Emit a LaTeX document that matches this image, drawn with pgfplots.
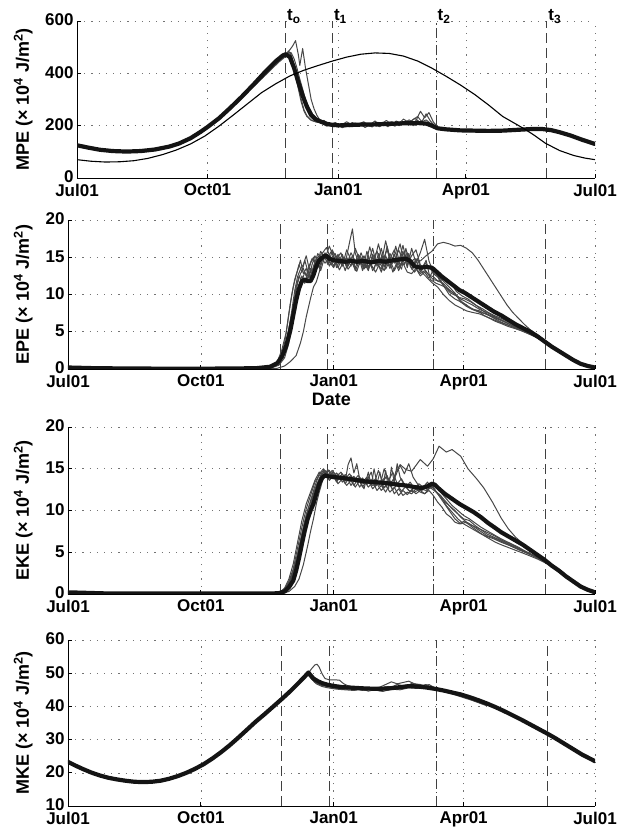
\documentclass[border=0pt]{standalone}
\usepackage{fontspec}
\setmainfont{Liberation Sans}
\usepackage{pgfplots}
\pgfplotsset{compat=1.18}
\definecolor{membcol}{gray}{0.28}
\definecolor{thkcol}{gray}{0.08}
\pgfplotsset{
  base/.style={scale only axis, xmin=0, xmax=365, no markers,
    axis x line*=bottom, axis y line*=left,
    xtick={0,92,184,274,365}, xticklabels={Jul01,Oct01,Jan01,Apr01,Jul01},
    grid=major, major grid style={black!55, line width=0.6pt, dash pattern=on 1.2pt off 6pt},
    tick align=inside, major tick length=4pt, tick style={black, line width=0.8pt},
    axis line style={black, line width=0.9pt},
    /pgf/number format/assume math mode=true,
    ticklabel style={font=\fontsize{17}{17}\selectfont\bfseries},
    xticklabel style={yshift=-2.5pt},
    yticklabel style={yshift=1pt},
    label style={font=\fontsize{18}{18}\selectfont\bfseries},
  },
  gm/.style={membcol, line width=1pt, line join=round},
  thk/.style={thkcol, line width=4.2pt, line join=round, line cap=round},
  tln/.style={black!75, line width=1pt, dash pattern=on 10pt off 5pt},
  tdd/.style={black!75, line width=1pt, dash pattern=on 10pt off 3pt on 1.5pt off 3pt},
}
\begin{document}
\begin{tikzpicture}[x=1pt,y=1pt]
\useasboundingbox (0,0) rectangle (627,830);
% ---------------- Panel 1: MPE
\begin{axis}[base, at={(77pt,652pt)}, anchor=south west, width=518pt, height=157pt,
  clip mode=individual,
  ymin=0, ymax=600, ytick={0,200,400,600},
  ylabel={MPE (× 10\textsuperscript{4} J/m\textsuperscript{2})},
  ylabel style={at={(axis description cs:-0.104,0.5)}, anchor=center}]
\addplot[tln] coordinates {(147,0) (147,600)};
\addplot[tln] coordinates {(180,0) (180,600)};
\addplot[tdd] coordinates {(253,0) (253,600)};
\addplot[tln] coordinates {(331,0) (331,600)};
\addplot[gm] coordinates {(125,355) (135,410) (142,445) (146,465) (150,490) (152,505) (154,525) (156,470) (157,430) (159,495) (161,420) (163,360) (165,300) (167,265) (169,240) (171,222) (174,212) (178,205) (182,200) (186,208) (190,198) (194,212) (198,203) (202,215) (206,198) (210,210) (214,205) (218,220) (222,203) (226,212) (230,208) (234,222) (238,210) (242,255) (245,230) (248,250) (251,215) (254,195) (258,188) (265,184) (275,180) (290,178) (305,180) (320,186) (330,187) (340,176)};
\addplot[gm] coordinates {(125,360) (135,415) (142,450) (147,470) (150,480) (152,450) (154,400) (156,350) (158,300) (160,260) (162,238) (165,222) (168,215) (172,210) (176,198) (180,205) (184,195) (188,203) (192,196) (196,210) (200,200) (204,206) (208,195) (212,213) (216,200) (220,208) (224,198) (228,215) (232,205) (236,220) (240,235) (243,215) (246,245) (249,218) (252,200) (256,185) (262,182) (272,178) (285,177) (300,179) (315,183) (325,186) (335,183) (345,165)};
\addplot[gm] coordinates {(125,352) (135,405) (142,442) (146,460) (149,485) (151,470) (153,430) (155,395) (157,360) (159,320) (161,290) (163,262) (165,240) (168,222) (171,213) (175,205) (179,198) (183,206) (187,192) (191,204) (195,197) (199,208) (203,193) (207,206) (211,198) (215,212) (219,196) (223,210) (227,200) (231,214) (235,203) (239,218) (243,206) (247,212) (251,196) (255,186) (260,183) (270,180) (280,178) (295,179) (310,182) (322,186) (332,186) (342,172)};
\addplot[gm] coordinates {(130,378) (140,440) (145,462) (148,475) (150,468) (152,440) (154,390) (156,340) (158,290) (160,255) (162,235) (165,220) (170,212) (174,220) (178,204) (182,212) (186,200) (190,215) (194,202) (198,197) (202,210) (206,202) (210,218) (214,200) (218,210) (222,215) (226,204) (230,225) (234,212) (238,228) (242,212) (246,222) (250,205) (254,192) (260,187) (270,184) (285,182) (300,183) (315,186) (328,190) (340,178)};
\addplot[gm] coordinates {(130,385) (140,445) (146,468) (149,482) (151,478) (153,455) (155,420) (157,378) (159,340) (161,300) (163,275) (166,245) (169,228) (173,212) (177,208) (181,196) (185,203) (189,210) (193,198) (197,205) (201,212) (205,200) (209,207) (213,196) (217,206) (221,200) (225,218) (229,205) (233,213) (237,200) (241,214) (245,205) (249,208) (253,190) (258,185) (268,182) (282,180) (298,180) (312,184) (326,188) (336,185) (345,168)};
\addplot[thk] coordinates {(0,125) (8,116) (16,108) (25,103) (35,101) (45,103) (55,109) (65,120) (72,132) (80,152) (87,176) (92,195) (100,228) (108,268) (116,310) (124,355) (132,402) (140,446) (145,468) (147,473) (150,462) (153,420) (156,365) (159,315) (162,272) (165,240) (168,225) (172,215) (176,207) (180,203) (185,201) (190,202) (200,204) (210,205) (220,207) (230,209) (240,210) (246,208) (250,200) (254,190) (260,186) (270,182) (280,181) (290,180) (300,181) (310,184) (320,187) (328,187) (334,183) (340,175) (348,162) (356,146) (365,130)};
\addplot[black, line width=1.1pt] coordinates {(0,70) (10,64) (20,61) (30,62) (40,66) (50,75) (60,89) (70,107) (80,130) (90,160) (100,198) (110,240) (120,283) (130,326) (140,360) (150,390) (160,412) (170,430) (180,447) (190,462) (200,473) (210,478) (220,476) (230,466) (240,447) (250,420) (260,389) (270,356) (280,320) (290,279) (300,235) (310,204) (316,185) (322,164) (330,133) (340,105) (350,86) (358,76) (365,70)};
\node[anchor=base west, inner sep=0pt, font=\fontsize{17}{17}\selectfont\bfseries] at (axis cs:148,602) {t\textsubscript{o}};
\node[anchor=base west, inner sep=0pt, font=\fontsize{17}{17}\selectfont\bfseries] at (axis cs:181,602) {t\textsubscript{1}};
\node[anchor=base west, inner sep=0pt, font=\fontsize{17}{17}\selectfont\bfseries] at (axis cs:254,602) {t\textsubscript{2}};
\node[anchor=base west, inner sep=0pt, font=\fontsize{17}{17}\selectfont\bfseries] at (axis cs:332,602) {t\textsubscript{3}};
\end{axis}
% ---------------- Panel 2: EPE
\begin{axis}[base, at={(68pt,461pt)}, anchor=south west, width=527pt, height=149pt,
  ymin=0, ymax=20, ytick={0,5,10,15,20}, xlabel={Date},
  xlabel style={yshift=4pt},
  ylabel={EPE (× 10\textsuperscript{4} J/m\textsuperscript{2})},
  ylabel style={at={(axis description cs:-0.085,0.5)}, anchor=center}]
\addplot[tln] coordinates {(147,0) (147,20)};
\addplot[tln] coordinates {(180,0) (180,20)};
\addplot[tdd] coordinates {(253,0) (253,20)};
\addplot[tln] coordinates {(331,0) (331,20)};
\addplot[gm] coordinates {(135,0) (145,0.1) (150,0.4) (154,1.0) (158,1.8) (161,3.5) (163,5.0) (165,7.0) (168,9.5) (170,11.0) (172,11.7) (174,13.0) (176,14.5) (178,15.5) (180,15.0) (183,16.0) (186,14.8) (189,15.6) (192,14.2) (195,17.0) (197,18.8) (199,15.5) (202,14.0) (205,15.2) (208,13.6) (211,15.0) (214,14.0) (217,16.2) (220,13.8) (223,15.5) (226,14.2) (229,16.0) (232,14.5) (235,15.3) (238,14.2) (241,13.5) (244,12.8) (247,13.2) (250,12.6) (253,12.4) (256,11.8) (260,11.5) (264,10.6) (268,10.0) (272,9.4) (276,9.0) (280,8.6) (285,8.0) (290,7.6) (295,7.1) (300,6.6) (306,6.0) (312,5.4) (318,4.9) (325,4.2) (332,3.4) (340,2.4)};
\addplot[gm] coordinates {(140,0.2) (146,0.8) (150,2.0) (153,4.5) (155,7.0) (157,9.5) (159,11.5) (161,12.8) (163,13.5) (165,12.5) (167,13.8) (169,14.8) (171,14.2) (173,15.0) (176,15.5) (179,16.3) (182,14.8) (185,15.5) (188,14.2) (191,15.0) (194,13.8) (197,15.2) (200,14.0) (203,15.6) (206,13.9) (209,16.4) (212,14.3) (215,16.8) (218,14.5) (221,16.0) (224,14.0) (227,16.5) (230,13.9) (233,15.2) (236,14.1) (240,14.8) (244,14.5) (248,15.2) (252,15.8) (256,16.8) (260,17.0) (264,16.8) (268,16.5) (272,16.6) (276,16.2) (280,15.6) (284,14.6) (288,13.4) (292,12.2) (296,11.0) (300,9.8) (304,8.6) (308,7.6) (312,6.8) (316,6.0) (320,5.3) (325,4.6) (332,3.6) (340,2.5)};
\addplot[gm] coordinates {(140,0.3) (145,1.0) (148,2.5) (151,4.8) (153,7.5) (155,10.0) (157,12.0) (159,13.2) (161,14.6) (163,12.8) (165,13.5) (167,12.2) (169,14.0) (171,15.2) (173,14.4) (175,15.8) (178,14.8) (181,16.5) (184,15.0) (187,14.2) (190,15.4) (193,13.6) (196,14.8) (199,13.2) (202,14.6) (205,13.4) (208,15.0) (211,13.2) (214,14.4) (217,13.0) (220,14.8) (223,13.5) (226,15.4) (229,13.6) (232,14.2) (235,13.0) (238,12.8) (241,13.5) (244,12.5) (247,13.0) (250,12.2) (254,13.6) (257,12.0) (260,11.2) (264,10.0) (268,9.4) (272,9.0) (276,8.4) (280,8.0) (284,7.8) (288,7.2) (292,6.8) (296,6.4) (300,6.1) (305,5.7) (310,5.4) (316,5.0) (322,4.5) (330,3.6) (340,2.4)};
\addplot[gm] coordinates {(140,0.2) (146,0.9) (150,2.8) (153,5.5) (156,8.5) (158,11.0) (160,12.5) (162,11.8) (164,13.0) (166,12.0) (168,13.5) (170,12.8) (172,14.5) (175,14.0) (178,15.6) (181,13.8) (184,15.2) (187,13.6) (190,14.8) (193,14.0) (196,15.6) (199,14.4) (202,15.0) (205,13.5) (208,14.2) (211,16.2) (214,13.8) (217,15.0) (220,13.4) (223,14.6) (226,13.2) (229,14.4) (232,15.8) (235,13.6) (238,16.2) (241,14.2) (244,15.6) (247,17.4) (250,14.5) (253,13.0) (256,12.5) (260,11.8) (264,11.0) (268,10.2) (272,9.0) (276,8.6) (280,8.0) (285,7.6) (290,7.4) (295,6.8) (300,6.3) (306,5.8) (312,5.3) (318,4.8) (325,4.2) (332,3.4) (340,2.4)};
\addplot[gm] coordinates {(140,0.2) (145,0.6) (149,1.8) (152,4.2) (155,7.8) (157,10.5) (159,12.4) (161,13.4) (163,14.0) (165,15.2) (167,13.5) (169,12.8) (171,14.2) (173,15.5) (176,14.6) (179,15.2) (182,14.0) (185,14.6) (188,13.3) (191,14.5) (194,13.4) (197,14.2) (200,13.1) (203,14.8) (206,13.6) (209,14.0) (212,13.4) (215,15.5) (218,13.8) (221,16.5) (224,14.0) (227,15.0) (230,16.8) (233,14.0) (236,15.5) (239,13.5) (242,14.8) (245,13.2) (248,14.6) (251,12.0) (255,11.5) (259,11.2) (263,10.8) (267,10.2) (271,9.6) (275,9.4) (279,9.0) (283,8.5) (287,8.1) (291,7.6) (295,7.2) (300,6.8) (306,6.2) (312,5.6) (318,5.0) (325,4.3) (332,3.5) (340,2.5)};
\addplot[gm] coordinates {(140,0.1) (146,0.5) (150,1.5) (153,3.5) (156,6.5) (158,9.0) (160,11.2) (162,12.5) (164,11.5) (166,12.6) (168,14.2) (170,15.0) (172,13.6) (175,15.2) (178,14.2) (181,15.0) (184,13.8) (187,15.4) (190,14.0) (193,15.0) (196,13.8) (199,16.2) (202,14.6) (205,14.2) (208,13.4) (211,14.6) (214,15.8) (217,14.2) (220,17.2) (223,14.8) (226,16.0) (229,14.4) (232,16.6) (235,14.0) (238,15.2) (241,16.0) (244,14.0) (247,13.4) (250,12.6) (253,12.0) (257,11.8) (261,12.2) (265,11.6) (269,10.4) (273,9.8) (277,9.4) (281,8.8) (285,8.2) (290,7.4) (295,7.0) (300,6.6) (306,6.0) (312,5.4) (318,4.9) (325,4.2) (332,3.4) (340,2.4)};
\addplot[gm] coordinates {(142,0.4) (147,1.5) (150,3.5) (152,6.0) (154,8.8) (156,11.0) (158,12.6) (160,14.0) (162,13.0) (164,14.6) (166,13.2) (168,12.4) (170,13.8) (172,14.8) (174,13.6) (177,15.4) (180,14.0) (183,15.8) (186,13.6) (189,14.9) (192,13.2) (195,15.0) (198,13.8) (201,15.4) (204,13.2) (207,15.8) (210,14.0) (213,13.0) (216,14.2) (219,13.2) (222,15.0) (225,13.0) (228,14.4) (231,13.4) (234,16.2) (237,13.8) (240,13.0) (243,13.8) (246,12.8) (249,12.2) (252,11.6) (256,11.0) (260,10.0) (264,9.2) (268,8.6) (272,8.2) (276,7.8) (280,7.6) (285,7.4) (290,7.0) (295,6.6) (300,6.2) (306,5.8) (312,5.4) (318,4.9) (325,4.3) (332,3.5) (340,2.5)};
\addplot[gm] coordinates {(142,0.3) (147,1.2) (150,2.6) (153,5.0) (155,6.8) (157,8.4) (159,10.2) (161,11.4) (163,12.2) (165,11.6) (167,12.8) (169,11.9) (171,13.2) (173,14.0) (175,13.2) (178,15.2) (181,14.4) (184,13.6) (187,15.0) (190,13.8) (193,16.0) (196,14.6) (199,13.6) (202,15.2) (205,14.4) (208,13.2) (211,15.4) (214,14.2) (217,13.4) (220,15.2) (223,13.8) (226,14.8) (229,13.2) (232,14.6) (235,15.6) (238,13.4) (241,14.8) (244,13.0) (247,14.2) (250,13.8) (253,12.8) (257,12.2) (261,11.0) (265,10.2) (269,9.8) (273,9.0) (277,8.4) (281,8.0) (285,7.8) (290,7.3) (295,6.9) (300,6.5) (306,6.0) (312,5.5) (318,5.0) (325,4.3) (332,3.5) (340,2.5)};
\addplot[thk] coordinates {(0,0.2) (20,0.1) (60,0.05) (100,0.05) (130,0.1) (140,0.3) (145,0.8) (148,1.6) (151,3.0) (154,5.2) (156,7.2) (158,9.2) (160,10.8) (162,11.8) (164,12.0) (166,11.8) (168,11.8) (170,12.6) (172,13.8) (174,14.6) (177,15.1) (179,15.2) (181,14.8) (184,14.6) (188,14.5) (192,14.4) (196,14.5) (200,14.4) (205,14.5) (210,14.3) (215,14.5) (220,14.4) (225,14.6) (230,14.7) (234,14.8) (237,14.5) (240,13.8) (244,13.6) (248,13.7) (252,13.6) (255,13.1) (259,12.4) (263,11.8) (267,11.2) (271,10.6) (275,10.2) (279,9.7) (283,9.2) (287,8.7) (291,8.2) (295,7.7) (300,7.2) (305,6.6) (310,6.0) (315,5.5) (320,5.0) (325,4.4) (330,3.7) (335,3.0) (340,2.4) (345,1.8) (350,1.2) (355,0.7) (360,0.4) (365,0.2)};
\end{axis}
% ---------------- Panel 3: EKE
\begin{axis}[base, at={(68pt,236pt)}, anchor=south west, width=527pt, height=167pt,
  ymin=0, ymax=20, ytick={0,5,10,15,20},
  ylabel={EKE (× 10\textsuperscript{4} J/m\textsuperscript{2})},
  ylabel style={at={(axis description cs:-0.085,0.5)}, anchor=center}]
\addplot[tln] coordinates {(147,0) (147,20)};
\addplot[tln] coordinates {(180,0) (180,20)};
\addplot[tdd] coordinates {(253,0) (253,20)};
\addplot[tln] coordinates {(331,0) (331,20)};
\addplot[gm] coordinates {(145,0.1) (150,0.5) (154,1.5) (157,3.0) (160,5.5) (163,8.0) (166,10.0) (169,11.5) (172,13.0) (175,14.2) (178,14.8) (181,14.2) (184,14.6) (187,13.8) (190,14.4) (193,13.6) (196,14.2) (199,13.4) (202,14.0) (205,13.2) (208,13.8) (211,13.0) (215,13.2) (220,14.0) (224,13.4) (227,14.2) (230,15.5) (234,14.9) (238,14.7) (244,16.1) (249,15.3) (253,16.2) (257,17.7) (262,17.0) (266,17.3) (272,16.5) (277,15.0) (283,13.8) (288,12.7) (294,11.0) (300,9.1) (305,7.8) (310,6.8) (316,5.9) (322,5.2) (330,4.2) (340,2.9)};
\addplot[gm] coordinates {(145,0.1) (150,0.6) (153,1.5) (156,3.0) (159,5.5) (162,8.0) (165,10.2) (168,11.8) (171,13.4) (174,14.2) (177,14.8) (180,13.8) (183,14.6) (186,13.6) (189,14.0) (192,13.5) (194,15.5) (196,16.3) (198,14.5) (200,15.6) (202,13.8) (205,13.2) (208,13.6) (211,12.6) (214,13.2) (217,12.4) (220,13.0) (223,12.2) (226,12.8) (229,11.8) (232,12.4) (235,11.9) (238,12.5) (241,12.0) (244,12.4) (247,12.0) (250,12.6) (253,12.8) (256,12.0) (260,11.2) (264,10.6) (268,10.0) (272,9.2) (276,8.6) (280,8.2) (285,7.8) (290,7.4) (295,7.0) (300,6.5) (306,6.0) (312,5.5) (318,5.0) (325,4.4) (332,3.8) (340,2.9)};
\addplot[gm] coordinates {(145,0.1) (150,0.4) (154,1.2) (157,2.5) (160,4.5) (163,7.0) (166,9.2) (169,11.0) (172,12.8) (175,14.0) (178,14.5) (181,13.6) (184,14.2) (187,13.2) (190,13.8) (193,13.0) (196,13.6) (199,12.8) (202,13.6) (205,12.6) (208,14.6) (210,13.0) (212,15.0) (214,13.2) (216,14.6) (218,12.8) (220,14.8) (222,12.6) (224,15.2) (226,13.4) (228,15.6) (230,14.0) (233,13.0) (236,12.4) (240,12.2) (244,12.6) (248,12.4) (252,12.9) (256,12.0) (260,11.0) (264,10.0) (268,9.0) (272,8.4) (276,8.6) (280,8.2) (285,7.6) (290,7.0) (295,6.7) (300,6.3) (306,5.8) (312,5.4) (318,4.9) (325,4.4) (332,3.7) (340,2.8)};
\addplot[gm] coordinates {(148,0.05) (153,0.3) (157,0.9) (160,1.8) (163,3.5) (166,5.8) (168,7.5) (170,9.0) (172,10.8) (174,12.2) (176,13.4) (178,14.4) (181,14.8) (184,13.8) (187,14.4) (190,13.4) (193,14.0) (196,13.0) (199,13.8) (202,12.8) (205,13.6) (208,12.8) (211,13.4) (214,12.4) (217,13.0) (220,12.2) (223,13.2) (226,12.0) (229,12.6) (232,11.8) (235,12.2) (238,12.0) (241,12.6) (244,12.2) (247,12.0) (250,12.4) (253,11.8) (256,11.0) (259,10.4) (262,9.6) (265,9.2) (268,8.6) (271,8.4) (274,8.7) (277,8.4) (280,8.0) (284,7.5) (288,7.0) (292,6.6) (296,6.2) (300,5.9) (306,5.5) (312,5.1) (318,4.7) (325,4.2) (332,3.6) (340,2.7)};
\addplot[gm] coordinates {(145,0.1) (150,0.5) (153,1.4) (156,2.8) (159,4.8) (162,7.2) (165,9.5) (168,11.2) (171,12.9) (174,14.4) (177,15.0) (180,14.2) (183,14.8) (186,14.0) (189,14.6) (192,13.8) (195,14.4) (198,13.6) (201,14.2) (204,13.4) (207,14.0) (210,13.2) (213,13.8) (216,13.0) (219,15.0) (222,13.6) (225,14.6) (228,13.2) (231,13.8) (234,12.8) (237,13.4) (240,12.6) (243,13.2) (246,12.8) (249,13.4) (252,12.6) (255,12.2) (258,11.8) (262,11.0) (266,10.2) (270,9.6) (274,9.0) (278,8.8) (282,8.2) (286,7.7) (290,7.2) (295,6.8) (300,6.4) (306,5.9) (312,5.4) (318,4.9) (325,4.4) (332,3.7) (340,2.8)};
\addplot[gm] coordinates {(145,0.1) (150,0.5) (153,1.2) (156,2.6) (159,4.6) (162,7.0) (165,9.0) (168,10.6) (171,12.4) (174,13.8) (177,14.6) (180,13.8) (183,14.4) (186,13.4) (189,14.2) (192,13.2) (195,14.0) (198,13.0) (201,13.8) (204,12.8) (207,13.6) (210,14.6) (212,13.2) (215,14.8) (218,13.4) (221,14.2) (224,12.8) (227,14.6) (230,15.4) (233,14.4) (236,15.6) (239,14.0) (242,13.2) (245,12.4) (248,12.8) (251,13.2) (254,12.4) (258,11.8) (262,10.6) (266,9.8) (270,9.0) (274,8.4) (278,8.0) (282,7.6) (286,7.2) (290,6.9) (295,6.6) (300,6.2) (306,5.8) (312,5.3) (318,4.9) (325,4.3) (332,3.7) (340,2.8)};
\addplot[gm] coordinates {(146,0.1) (150,0.7) (153,1.8) (156,3.6) (159,6.2) (162,8.8) (165,10.8) (168,12.2) (171,13.6) (174,14.6) (177,14.2) (180,14.9) (183,13.9) (186,14.5) (189,13.7) (192,14.3) (195,13.5) (198,14.1) (201,13.3) (204,13.9) (207,13.1) (210,13.7) (213,12.9) (216,13.5) (219,12.7) (222,13.3) (225,12.5) (228,13.1) (231,12.3) (234,12.9) (237,12.2) (240,12.8) (243,12.3) (246,12.9) (249,12.5) (252,13.4) (255,12.8) (258,12.2) (262,11.4) (266,10.6) (270,10.0) (274,9.4) (278,9.0) (282,8.5) (286,8.0) (290,7.6) (295,7.1) (300,6.6) (306,6.1) (312,5.6) (318,5.0) (325,4.4) (332,3.8) (340,2.9)};
\addplot[thk] coordinates {(0,0.2) (30,0.05) (100,0.05) (140,0.05) (146,0.1) (150,0.3) (153,0.8) (156,1.6) (158,2.8) (160,4.3) (162,6.0) (164,7.6) (166,9.0) (168,10.0) (170,10.8) (172,12.0) (174,13.2) (176,13.9) (178,14.2) (180,14.1) (184,14.0) (190,13.9) (198,13.7) (205,13.5) (212,13.4) (220,13.3) (228,13.1) (234,13.0) (240,12.8) (245,12.7) (249,12.9) (252,13.2) (254,13.1) (257,12.6) (261,12.0) (266,11.4) (271,10.8) (276,10.3) (281,9.8) (286,9.2) (291,8.5) (296,7.9) (300,7.4) (305,6.9) (310,6.4) (315,5.9) (320,5.3) (325,4.7) (330,4.1) (335,3.4) (340,2.8) (345,2.1) (350,1.5) (355,0.9) (360,0.5) (365,0.2)};
\end{axis}
% ---------------- Panel 4: MKE
\begin{axis}[base, at={(68pt,24pt)}, anchor=south west, width=527pt, height=166pt,
  ymin=10, ymax=60, ytick={10,20,30,40,50,60},
  ylabel={MKE (× 10\textsuperscript{4} J/m\textsuperscript{2})},
  ylabel style={at={(axis description cs:-0.085,0.5)}, anchor=center}]
\addplot[tln] coordinates {(148,10) (148,60)};
\addplot[tln] coordinates {(181,10) (181,60)};
\addplot[tdd] coordinates {(255,10) (255,60)};
\addplot[tln] coordinates {(332,10) (332,60)};
\addplot[gm] coordinates {(150,43.0) (156,45.5) (162,48.0) (166,49.8) (169,51.5) (171,52.5) (172.5,52.7) (174,51.8) (176,49.8) (178,48.4) (181,48.0) (185,48.0) (188,47.9) (191,46.8) (194,46.2) (198,45.8) (204,45.6) (210,45.4) (216,45.8) (220,46.6) (224,47.4) (228,46.8) (232,47.2) (236,47.6) (240,46.8) (244,46.6) (248,46.0) (254,45.4) (262,44.6) (270,43.6) (280,42.2) (290,40.6)};
\addplot[gm] coordinates {(150,43.0) (156,45.5) (162,48.0) (165,49.5) (167,49.8) (169,48.2) (172,46.8) (176,46.0) (180,45.6) (186,45.2) (192,45.0) (198,44.8) (204,45.2) (208,44.6) (212,45.0) (218,44.5) (224,45.2) (230,45.0) (236,45.6) (242,45.4) (248,46.2) (252,45.5) (256,44.9) (262,44.3) (270,43.2) (280,41.8) (290,40.2)};
\addplot[gm] coordinates {(150,43.2) (156,45.6) (162,48.2) (166,49.6) (168,48.6) (171,47.2) (175,46.4) (180,45.9) (186,45.4) (192,45.6) (198,45.0) (204,45.8) (210,45.0) (216,45.6) (222,46.0) (228,45.2) (234,46.4) (240,46.8) (244,46.2) (248,46.6) (252,45.8) (258,45.0) (266,44.0) (274,43.0) (282,41.6) (290,40.4)};
\addplot[gm] coordinates {(150,43.1) (156,45.6) (162,48.1) (166,49.9) (168,49.0) (171,47.8) (175,47.2) (180,46.4) (186,45.8) (192,45.2) (198,45.4) (204,44.8) (210,45.3) (216,44.7) (222,45.4) (228,46.6) (234,46.0) (238,46.9) (242,46.3) (246,45.8) (250,46.6) (254,45.6) (260,44.9) (268,43.9) (276,42.8) (284,41.6) (292,40.2)};
\addplot[thk] coordinates {(0,23.3) (5,22.2) (10,21.2) (16,20.1) (22,19.2) (28,18.5) (34,18.0) (40,17.6) (46,17.3) (52,17.2) (58,17.3) (64,17.6) (70,18.2) (76,19.0) (82,20.0) (88,21.2) (94,22.6) (100,24.3) (106,26.2) (112,28.3) (118,30.6) (124,33.0) (130,35.4) (136,37.6) (142,39.9) (148,42.2) (154,44.6) (160,47.2) (164,49.0) (166.5,50.2) (168,49.4) (170,48.4) (173,47.6) (176,47.0) (180,46.5) (185,46.1) (190,45.8) (198,45.6) (206,45.4) (214,45.3) (222,45.4) (230,45.8) (236,46.1) (242,46.0) (248,45.7) (254,45.3) (260,44.8) (266,44.2) (272,43.6) (278,42.8) (284,41.9) (290,40.9) (296,39.8) (302,38.6) (308,37.3) (314,36.0) (320,34.6) (326,33.2) (332,31.8) (338,30.3) (344,28.7) (350,27.1) (356,25.5) (365,23.5)};
\end{axis}
\end{tikzpicture}
\end{document}
